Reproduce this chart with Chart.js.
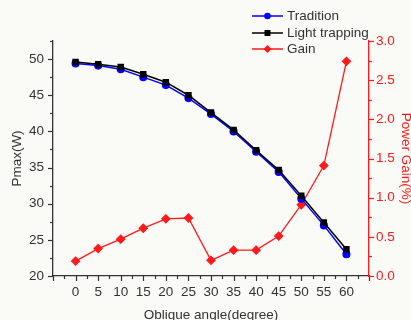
<!DOCTYPE html>
<html><head><meta charset="utf-8">
<script src="https://cdn.jsdelivr.net/npm/chart.js@4.4.1/dist/chart.umd.min.js"></script>
<style>html,body{margin:0;padding:0;background:#fafaf6;}#wrap{width:411px;height:320px;}</style>
</head><body><div id="wrap"><canvas id="c" width="411" height="320"></canvas></div>
<script>
const angles = [0,5,10,15,20,25,30,35,40,45,50,55,60];
const tradition = [49.4,49.1,48.6,47.5,46.4,44.6,42.4,40.0,37.2,34.4,30.7,27.0,23.0];
const lightTrapping = [49.6,49.3,48.9,47.9,46.8,45.0,42.6,40.2,37.4,34.65,31.1,27.4,23.7];
const gain = [0.19,0.35,0.47,0.61,0.73,0.74,0.20,0.33,0.33,0.51,0.91,1.41,2.74];
const seriesNames = ['Tradition','Light trapping','Gain'];
const xTitle = 'Oblique angle(degree)';
const yTitle = 'Pmax(W)';
const y1Title = 'Power Gain(%)';

const FONT = 'Liberation Sans, Arial, sans-serif';
const GRAY = '#333333';
const RED = '#ff1a1a';

function pts(xs, ys){ return xs.map((x,i)=>({x:x,y:ys[i]})); }

const tickPlugin = {
  id:'ticks2',
  beforeDatasetsDraw(chart){
    const ctx = chart.ctx;
    const ca = chart.chartArea;
    ctx.save();
    ctx.lineWidth = 1.2;
    const x = chart.scales.x;
    ctx.strokeStyle = GRAY;
    x.ticks.forEach(t=>{
      const px = Math.round(x.getPixelForValue(t.value))+0.5;
      const len = (Math.abs(t.value % 5) < 1e-6) ? 5 : 3;
      ctx.beginPath(); ctx.moveTo(px, ca.bottom); ctx.lineTo(px, ca.bottom+len); ctx.stroke();
    });
    const y = chart.scales.y;
    y.ticks.forEach(t=>{
      const py = Math.round(y.getPixelForValue(t.value))+0.5;
      const len = (Math.abs(t.value % 5) < 1e-6) ? 5 : 3;
      ctx.beginPath(); ctx.moveTo(ca.left, py); ctx.lineTo(ca.left-len, py); ctx.stroke();
    });
    const y1 = chart.scales.y1;
    ctx.strokeStyle = RED;
    y1.ticks.forEach(t=>{
      const py = Math.round(y1.getPixelForValue(t.value))+0.5;
      const len = (Math.abs((t.value*2) - Math.round(t.value*2)) < 1e-6) ? 5 : 3;
      ctx.beginPath(); ctx.moveTo(ca.right, py); ctx.lineTo(ca.right+len, py); ctx.stroke();
    });
    ctx.restore();
  }
};

const legendPlugin = {
  id:'legend2',
  afterDraw(chart){
    const ctx = chart.ctx;
    const items = [
      {name:seriesNames[0], color:'#0000ff', shape:'circle', y:16},
      {name:seriesNames[1], color:'#000000', shape:'rect', y:33},
      {name:seriesNames[2], color:RED, shape:'diamond', y:49}
    ];
    ctx.save();
    items.forEach(it=>{
      ctx.strokeStyle = it.color; ctx.fillStyle = it.color; ctx.lineWidth = 1.5;
      ctx.beginPath(); ctx.moveTo(252, it.y); ctx.lineTo(283, it.y); ctx.stroke();
      const cx = 267.5, cy = it.y;
      ctx.beginPath();
      if(it.shape==='circle'){ ctx.arc(cx,cy,3.3,0,Math.PI*2); }
      else if(it.shape==='rect'){ ctx.rect(cx-3,cy-3,6,6); }
      else { ctx.moveTo(cx,cy-4); ctx.lineTo(cx+4,cy); ctx.lineTo(cx,cy+4); ctx.lineTo(cx-4,cy); ctx.closePath(); }
      ctx.fill();
      ctx.fillStyle = GRAY;
      ctx.font = '13.5px ' + FONT;
      ctx.textBaseline = 'middle';
      ctx.fillText(it.name, 287, it.y+0.5);
    });
    ctx.restore();
  }
};

new Chart(document.getElementById('c'), {
  type:'line',
  data:{
    datasets:[
      {label:seriesNames[1], data:pts(angles, lightTrapping), yAxisID:'y', borderColor:'#000000', backgroundColor:'#000000', borderWidth:1.5, pointStyle:'rect', pointRadius:3.5, order:1},
      {label:seriesNames[0], data:pts(angles, tradition), yAxisID:'y', borderColor:'#0000ff', backgroundColor:'#0000ff', borderWidth:1.5, pointStyle:'circle', pointRadius:3.3, order:2},
      {label:seriesNames[2], data:pts(angles, gain), yAxisID:'y1', borderColor:RED, backgroundColor:RED, borderWidth:1.3, pointStyle:'rectRot', pointRadius:4, order:3}
    ]
  },
  options:{
    responsive:false, animation:false,
    layout:{padding:{top:41,left:0,right:0,bottom:0}},
    plugins:{legend:{display:false}, tooltip:{enabled:false}},
    scales:{
      x:{type:'linear', min:-5, max:65,
        grid:{display:false, drawTicks:false},
        border:{display:true, color:GRAY, width:1.3},
        ticks:{stepSize:2.5, autoSkip:false, maxRotation:0, color:GRAY, padding:8, font:{family:FONT,size:13.5},
          callback:(v)=> (Math.abs(v%5)<1e-6 && v>=0 && v<=60) ? String(v) : ''},
        title:{display:true, text:xTitle, color:GRAY, font:{family:FONT,size:13.5}, padding:{top:0,bottom:-3}},
        afterFit:(s)=>{s.height=44;}
      },
      y:{type:'linear', position:'left', min:20, max:52.5,
        grid:{display:false, drawTicks:false},
        border:{display:true, color:GRAY, width:1.3},
        ticks:{stepSize:2.5, autoSkip:false, color:GRAY, padding:9, font:{family:FONT,size:13.5},
          callback:(v)=> (Math.abs(v%5)<1e-6) ? String(v) : ''},
        title:{display:true, text:yTitle, color:GRAY, font:{family:FONT,size:13.5}, padding:{top:9,bottom:0}},
        afterFit:(s)=>{s.width=53;}
      },
      y1:{type:'linear', position:'right', min:0, max:3,
        grid:{display:false, drawTicks:false},
        border:{display:true, color:RED, width:1.3},
        ticks:{stepSize:0.25, autoSkip:false, color:RED, padding:7, font:{family:FONT,size:13.5},
          callback:(v)=> (Math.abs(v*2-Math.round(v*2))<1e-6) ? v.toFixed(1) : ''},
        title:{display:true, text:y1Title, color:RED, font:{family:FONT,size:13.5}, padding:{top:-3,bottom:0}},
        afterFit:(s)=>{s.width=42;}
      }
    }
  },
  plugins:[tickPlugin, legendPlugin]
});
</script></body></html>
